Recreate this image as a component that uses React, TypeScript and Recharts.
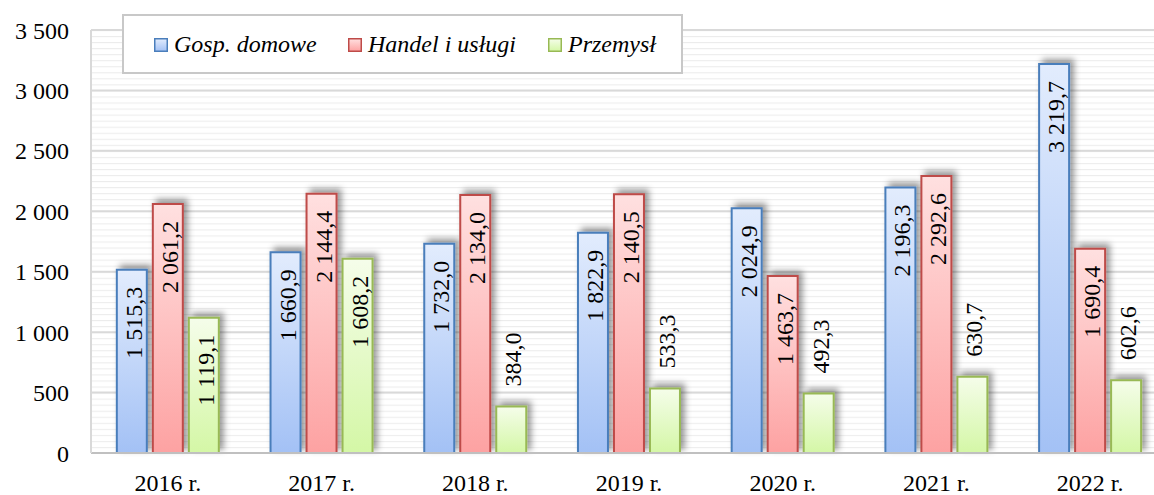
import React from "react";
import { BarChart, Bar, XAxis, YAxis, CartesianGrid, Legend, LabelList } from "recharts";

const categories = ["2016 r.", "2017 r.", "2018 r.", "2019 r.", "2020 r.", "2021 r.", "2022 r."];
const gospDomowe = [1515.3, 1660.9, 1732.0, 1822.9, 2024.9, 2196.3, 3219.7];
const handelUslugi = [2061.2, 2144.4, 2134.0, 2140.5, 1463.7, 2292.6, 1690.4];
const przemysl = [1119.1, 1608.2, 384.0, 533.3, 492.3, 630.7, 602.6];
const yTicks = [0, 500, 1000, 1500, 2000, 2500, 3000, 3500];

const seriesNames = ["Gosp. domowe", "Handel i usługi", "Przemysł"];

const data = categories.map((c, i) => ({
  cat: c,
  gosp: gospDomowe[i],
  handel: handelUslugi[i],
  przem: przemysl[i],
}));

const FONT = "'Liberation Serif', 'DejaVu Serif', serif";

const fmtTick = (v: number) => {
  const s = Math.round(v).toString();
  return s.replace(/\B(?=(\d{3})+(?!\d))/g, " ");
};
const fmtVal = (v: number) => {
  const [ip, dp] = v.toFixed(1).split(".");
  return ip.replace(/\B(?=(\d{3})+(?!\d))/g, " ") + "," + dp;
};

const FS = 24;
const textLen = (s: string) => {
  let w = 0;
  for (const ch of s) w += ch === " " || ch === "," ? 0.25 : 0.5;
  return w * FS;
};

const ValueLabel = (props: any) => {
  const { x, y, width, height, value } = props;
  if (value == null) return null;
  const s = fmtVal(Number(value));
  const len = textLen(s);
  const inside = height >= len + 34;
  const bx = x + width / 2 + 10;
  const ty = inside ? y + 17 : y - 20;
  return (
    <text
      transform={`translate(${bx},${ty}) rotate(-90)`}
      textAnchor={inside ? "end" : "start"}
      fontFamily={FONT}
      fontSize={FS}
      fill="#000"
      style={{ fontFamily: FONT }}
    >
      {s}
    </text>
  );
};

const legendItems = [
  { name: seriesNames[0], grad: "url(#gBlue)", stroke: "#4a7ebb", mx: 32, tx: 52 },
  { name: seriesNames[1], grad: "url(#gRed)", stroke: "#be4b48", mx: 226, tx: 246 },
  { name: seriesNames[2], grad: "url(#gGreen)", stroke: "#98b954", mx: 426, tx: 446 },
];

const LegendBox = () => (
  <div
    style={{
      position: "relative",
      width: 561,
      height: 60,
      boxSizing: "border-box",
      border: "2px solid #c8c8c8",
      background: "#fff",
    }}
  >
    {legendItems.map((it) => (
      <React.Fragment key={it.name}>
        <svg
          width={14}
          height={14}
          style={{ position: "absolute", left: it.mx - 2, top: 22, overflow: "visible" }}
        >
          <rect x={0.75} y={0.75} width={12.5} height={12.5} fill={it.grad} stroke={it.stroke} strokeWidth={1.5} />
        </svg>
        <span
          style={{
            position: "absolute",
            left: it.tx - 2,
            top: 13,
            fontFamily: FONT,
            fontStyle: "italic",
            fontSize: 24,
            lineHeight: "30px",
            color: "#000",
            whiteSpace: "nowrap",
          }}
        >
          {it.name}
        </span>
      </React.Fragment>
    ))}
  </div>
);

const PLOT_TOP = 30;
const PLOT_H = 423;

export default function App() {
  return (
    <div
      style={{
        position: "absolute",
        left: 0,
        top: 0,
        width: 1154,
        height: 495,
        overflow: "hidden",
        background: "#fff",
      }}
    >
      <svg width={0} height={0} style={{ position: "absolute" }}>
        <defs>
          <linearGradient id="gBlue" x1="0" y1="0" x2="0" y2="1">
            <stop offset="0%" stopColor="#e2ecfd" />
            <stop offset="100%" stopColor="#a3c1f5" />
          </linearGradient>
          <linearGradient id="gRed" x1="0" y1="0" x2="0" y2="1">
            <stop offset="0%" stopColor="#ffe0e0" />
            <stop offset="100%" stopColor="#fda2a2" />
          </linearGradient>
          <linearGradient id="gGreen" x1="0" y1="0" x2="0" y2="1">
            <stop offset="0%" stopColor="#f5fdea" />
            <stop offset="100%" stopColor="#d4f7a6" />
          </linearGradient>
          <pattern
            id="stripes"
            patternUnits="userSpaceOnUse"
            x={0}
            y={PLOT_TOP}
            width={10}
            height={PLOT_H / 70}
          >
            <rect x={0} y={0} width={10} height={PLOT_H / 70} fill="#ffffff" />
            <rect x={0} y={-0.8} width={10} height={1.8} fill="#ececec" />
          </pattern>
          <filter id="barShadow" x="-50%" y="-50%" width="200%" height="200%">
            <feDropShadow dx={4} dy={-4} stdDeviation={3} floodColor="#000" floodOpacity={0.4} />
          </filter>
        </defs>
      </svg>
      <BarChart
        width={1167}
        height={495}
        data={data}
        margin={{ top: PLOT_TOP, right: 0, bottom: 0, left: 0 }}
        barCategoryGap="16.8%"
        barGap={6}
        style={{ fontFamily: FONT }}
      >
        <CartesianGrid
          vertical={false}
          fill="url(#stripes)"
          fillOpacity={1}
          stroke="#d9d9d9"
          strokeWidth={2}
        />
        <XAxis
          dataKey="cat"
          height={42}
          tickLine={false}
          tickSize={0}
          tickMargin={21}
          axisLine={{ stroke: "#c0c0c0", strokeWidth: 2 }}
          tick={{ fontFamily: FONT, fontSize: 24, fill: "#000" }}
          interval={0}
        />
        <YAxis
          width={91}
          domain={[0, 3500]}
          ticks={yTicks}
          tickFormatter={fmtTick}
          tickLine={false}
          tickSize={0}
          tickMargin={22}
          axisLine={{ stroke: "#d9d9d9", strokeWidth: 2 }}
          tick={{ fontFamily: FONT, fontSize: 24, fill: "#000" }}
          interval={0}
        />
        <Legend
          layout="horizontal"
          verticalAlign="middle"
          align="center"
          content={() => <LegendBox />}
          wrapperStyle={{ position: "absolute", left: 122, top: 14, width: 561, height: 60, margin: 0 }}
        />
        <Bar
          dataKey="gosp"
          name={seriesNames[0]}
          fill="url(#gBlue)"
          stroke="#4a7ebb"
          strokeWidth={2}
          filter="url(#barShadow)"
          isAnimationActive={false}
        >
          <LabelList dataKey="gosp" content={<ValueLabel />} />
        </Bar>
        <Bar
          dataKey="handel"
          name={seriesNames[1]}
          fill="url(#gRed)"
          stroke="#be4b48"
          strokeWidth={2}
          filter="url(#barShadow)"
          isAnimationActive={false}
        >
          <LabelList dataKey="handel" content={<ValueLabel />} />
        </Bar>
        <Bar
          dataKey="przem"
          name={seriesNames[2]}
          fill="url(#gGreen)"
          stroke="#98b954"
          strokeWidth={2}
          filter="url(#barShadow)"
          isAnimationActive={false}
        >
          <LabelList dataKey="przem" content={<ValueLabel />} />
        </Bar>
      </BarChart>
    </div>
  );
}
